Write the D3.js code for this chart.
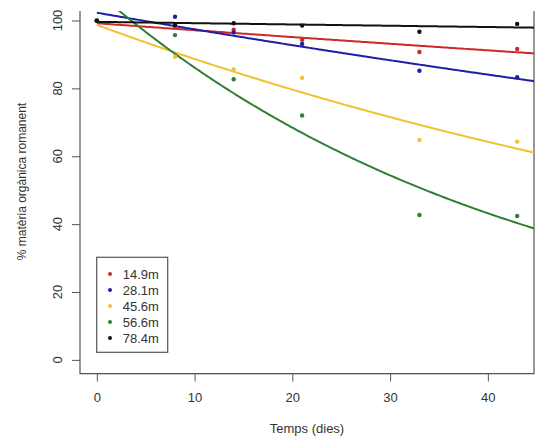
<!DOCTYPE html>
<html>
<head>
<meta charset="utf-8">
<script src="https://cdn.jsdelivr.net/npm/d3@7/dist/d3.min.js"></script>
<style>
  html, body { margin: 0; padding: 0; background: #fff; }
  svg { display: block; font-family: "Liberation Sans", Arial, sans-serif; }
</style>
</head>
<body>
<svg id="chart" width="544" height="438"></svg>
<script>
// Sampling days
const days = [0, 8, 14, 21, 33, 43];

// Sampling depths (legend labels) and colours
const depths = ["14.9m", "28.1m", "45.6m", "56.6m", "78.4m"];
const colors = ["#cc2a2a", "#1f1fa3", "#f0c233", "#2f7f35", "#111111"];

// % organic matter remaining, one array per depth
const pct149 = [100, 98.3, 97.3, 94.3, 90.7, 91.6];
const pct281 = [100, 101.1, 96.5, 93.1, 85.2, 83.3];
const pct456 = [100, 89.3, 85.6, 83.1, 64.8, 64.3];
const pct566 = [100, 95.7, 82.7, 72.0, 42.7, 42.4];
const pct784 = [99.9, 98.7, 99.2, 98.5, 96.7, 99.0];
const series = [pct149, pct281, pct456, pct566, pct784];

// Exponential decay fits  y = a * exp(-k t)
const fitA = [99.2, 102.3, 98.7, 108.4, 99.6];
const fitK = [0.0021, 0.00491, 0.01073, 0.0230, 0.000385];

// Axis ticks
const xTicks = [0, 10, 20, 30, 40];
const yTicks = [0, 20, 40, 60, 80, 100];

const svg = d3.select("#chart");
const plotL = 80, plotR = 534, plotT = 11, plotB = 373.6;

const x = d3.scaleLinear().domain([-1.72, 44.72]).range([plotL, plotR]);
const y = d3.scaleLinear().domain([-4.04, 102.8]).range([plotB, plotT]);

const axisColor = "#555";
const textColor = "#333";

// Plot frame (left, bottom, right)
svg.append("path")
  .attr("d", `M${plotL},${plotT}V${plotB}H${plotR}V${plotT}`)
  .attr("fill", "none").attr("stroke", axisColor).attr("stroke-width", 1.2);

// Clip region for the fitted curves
svg.append("clipPath").attr("id", "plotclip")
  .append("rect").attr("x", plotL).attr("y", plotT)
  .attr("width", plotR - plotL).attr("height", plotB - plotT);

// X axis
const xAxis = svg.append("g").attr("transform", `translate(0,${plotB})`)
  .call(d3.axisBottom(x).tickValues(xTicks).tickSize(8).tickPadding(8).tickSizeOuter(0));
xAxis.select(".domain").attr("d", `M${x(0)},0H${x(40)}`).attr("stroke", axisColor);
xAxis.selectAll(".tick line").attr("stroke", axisColor);
xAxis.selectAll(".tick text").attr("fill", textColor).attr("font-size", 13)
  .attr("dy", "0.95em");

// Y axis (labels rotated, as in base R)
const yAxis = svg.append("g").attr("transform", `translate(${plotL},0)`)
  .call(d3.axisLeft(y).tickValues(yTicks).tickSize(8).tickFormat(() => "").tickSizeOuter(0));
yAxis.select(".domain").remove();
yAxis.selectAll(".tick line").attr("stroke", axisColor);
svg.append("g").selectAll("text").data(yTicks).join("text")
  .attr("transform", d => `translate(61.5,${y(d)}) rotate(-90)`)
  .attr("text-anchor", "middle")
  .attr("font-size", 13).attr("fill", textColor)
  .text(d => d);

// Axis titles
svg.append("text").attr("x", (plotL + plotR) / 2).attr("y", 433)
  .attr("text-anchor", "middle").attr("font-size", 13).attr("fill", textColor)
  .text("Temps (dies)");
svg.append("text").attr("transform", "translate(26,181.5) rotate(-90)")
  .attr("text-anchor", "middle").attr("font-size", 12).attr("fill", textColor)
  .text("% matèria orgànica romanent");

// Fitted curves
const tGrid = d3.range(0, 44.72, 0.25).concat([44.72]);
const line = d3.line().x(d => x(d[0])).y(d => y(d[1]));
const curves = svg.append("g").attr("clip-path", "url(#plotclip)");
series.forEach((_, i) => {
  curves.append("path")
    .datum(tGrid.map(t => [t, fitA[i] * Math.exp(-fitK[i] * t)]))
    .attr("d", line).attr("fill", "none")
    .attr("stroke", colors[i]).attr("stroke-width", 2);
});

// Observed points
series.forEach((vals, i) => {
  svg.append("g").selectAll("circle").data(vals).join("circle")
    .attr("cx", (d, j) => x(days[j])).attr("cy", d => y(d))
    .attr("r", 2.2).attr("fill", colors[i]);
});

// Legend
const lg = svg.append("g");
lg.append("rect").attr("x", 96.7).attr("y", 257.3).attr("width", 71).attr("height", 95)
  .attr("fill", "#fff").attr("stroke", axisColor).attr("stroke-width", 1.2);
depths.forEach((name, i) => {
  const cy = 274 + i * 16;
  lg.append("circle").attr("cx", 110).attr("cy", cy).attr("r", 2).attr("fill", colors[i]);
  lg.append("text").attr("x", 122.7).attr("y", cy + 4.6)
    .attr("font-size", 13).attr("fill", textColor).text(name);
});
</script>
</body>
</html>
